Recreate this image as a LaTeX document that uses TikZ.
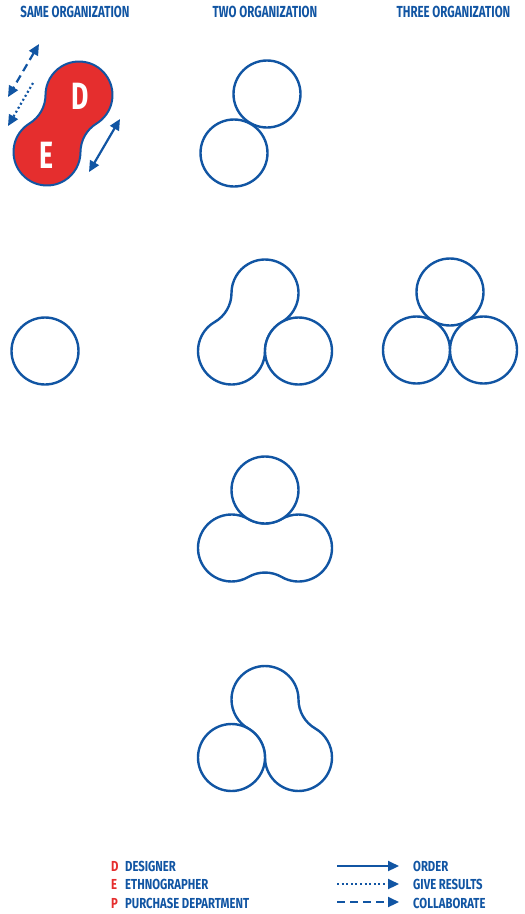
\documentclass[tikz,border=0pt]{standalone}
\usepackage{fontspec}
\setmainfont{Fira Sans}[FakeStretch=0.7]
\newfontfamily\headfont{Fira Sans}[FakeStretch=0.72]
\newfontfamily\legfont{Fira Sans}[FakeStretch=0.78]
\usetikzlibrary{arrows.meta, positioning, calc}

\definecolor{orgblue}{HTML}{1155A3}
\definecolor{orgred}{HTML}{E52E2E}

\newcommand{\ringrad}{33.5}
\newcommand{\neckrad}{33.5}
%% two rings A=(#2,#3) and B=(#4,#5), joined by a smooth neck (pixel coords, y down)
\newcommand{\peanut}[5][]{%
  \pgfmathsetmacro{\pnphi}{atan2((#3)-(#5),(#4)-(#2))}%
  \pgfmathsetmacro{\pnhalf}{veclen((#4)-(#2),(#3)-(#5))/2}%
  \pgfmathsetmacro{\pnal}{acos(\pnhalf/(\ringrad+\neckrad))}%
  \draw[#1] (#2,-#3) ++(\pnphi+\pnal:\ringrad)
    arc[start angle=\pnphi+\pnal, end angle=\pnphi-\pnal+360, radius=\ringrad]
    arc[start angle=\pnphi+180-\pnal, end angle=\pnphi+\pnal, radius=\neckrad]
    arc[start angle=\pnphi+180+\pnal, end angle=\pnphi+540-\pnal, radius=\ringrad]
    arc[start angle=\pnphi-\pnal, end angle=\pnphi-180+\pnal, radius=\neckrad]
    -- cycle;}

\begin{document}
\begin{tikzpicture}[
  x=1pt, y=1pt,
  ring/.style    = {circle, draw=orgblue, line width=2.4pt, fill=white,
                    minimum size=67pt, inner sep=0pt},
  blob/.style    = {draw=orgblue, line width=2.4pt, fill=white},
  redblob/.style = {draw=orgblue, line width=2pt, fill=orgred},
  head/.style    = {anchor=base, inner sep=0pt, text=orgblue,
                    font=\headfont\bfseries\fontsize{16}{18}\selectfont},
  letter/.style  = {inner sep=0pt, text=white,
                    font=\bfseries\fontsize{38}{40}\selectfont},
  legkey/.style  = {anchor=base west, inner sep=0pt, text=orgred,
                    font=\legfont\bfseries\fontsize{14.5}{16}\selectfont},
  legtxt/.style  = {anchor=base west, inner sep=0pt, text=orgblue,
                    font=\legfont\bfseries\fontsize{14.5}{16}\selectfont},
  order/.style   = {draw=orgblue, line width=2.2pt, -{Triangle[length=11pt, width=10pt]}},
  give/.style    = {draw=orgblue, line width=2.2pt, dash pattern=on 2pt off 2.6pt,
                    -{Triangle[length=11pt, width=10pt]}},
  collab/.style  = {draw=orgblue, line width=2.2pt, dash pattern=on 8pt off 5pt,
                    -{Triangle[length=11pt, width=10pt]}},
  both/.style    = {{Triangle[length=11pt, width=10pt]}-{Triangle[length=11pt, width=10pt]}},
]
\useasboundingbox (0,0) rectangle (525,-914);

%% Column heads
\node[head] (hsame)  at (75,-17)    {SAME ORGANIZATION};
\node[head] (htwo)   at (265,-17)   {TWO ORGANIZATION};
\node[head] (hthree) at (453.5,-17) {THREE ORGANIZATION};

%% Same organization: designer and ethnographer
\peanut[redblob]{79}{95}{47}{152}
\node[letter] (dd) at (80,-96)  {D};
\node[letter] (ee) at (46,-155) {E};

\coordinate (c1a) at (39,-44);   \coordinate (c1b) at (8,-97);
\coordinate (g1a) at (33,-83);   \coordinate (g1b) at (8,-126);
\coordinate (o1a) at (120,-119); \coordinate (o1b) at (89,-172);
\draw[collab, both] (c1a) -- (c1b);
\draw[give]         (g1a) -- (g1b);
\draw[order, both]  (o1a) -- (o1b);

%% Two organization, row 1
\node[ring] (two1a) at (267,-94)  {};
\node[ring] (two1b) at (234,-153) {};

%% Row 2
\node[ring] (same2) at (45,-351) {};

\peanut[blob]{265}{293}{231.5}{351}
\node[ring] (two2c) at (298.5,-351) {};

\node[ring] (three2a) at (450,-292) {};
\node[ring] (three2b) at (416.5,-350) {};
\node[ring] (three2c) at (483.5,-350) {};

%% Row 3
\peanut[blob]{231.5}{548}{298.5}{548}
\node[ring] (two3a) at (265,-490) {};

%% Row 4
\peanut[blob]{265}{699.5}{298.5}{757.5}
\node[ring] (two4b) at (231.5,-757.5) {};

%% Legend
\node[legkey] (kd) at (111,-871) {D};
\node[legkey] (ke) at (111,-889) {E};
\node[legkey] (kp) at (111,-908) {P};
\node[legtxt] (td) at (125,-871) {DESIGNER};
\node[legtxt] (te) at (125,-889) {ETHNOGRAPHER};
\node[legtxt] (tp) at (125,-908) {PURCHASE DEPARTMENT};

\coordinate (lo1) at (337,-866); \coordinate (lo2) at (399,-866);
\coordinate (lg1) at (337,-884); \coordinate (lg2) at (399,-884);
\coordinate (lc1) at (337,-902); \coordinate (lc2) at (399,-902);
\draw[order]  (lo1) -- (lo2);
\draw[give]   (lg1) -- (lg2);
\draw[collab] (lc1) -- (lc2);
\node[legtxt] (to) at (413,-871) {ORDER};
\node[legtxt] (tg) at (413,-889) {GIVE RESULTS};
\node[legtxt] (tc) at (413,-908) {COLLABORATE};

\end{tikzpicture}
\end{document}
